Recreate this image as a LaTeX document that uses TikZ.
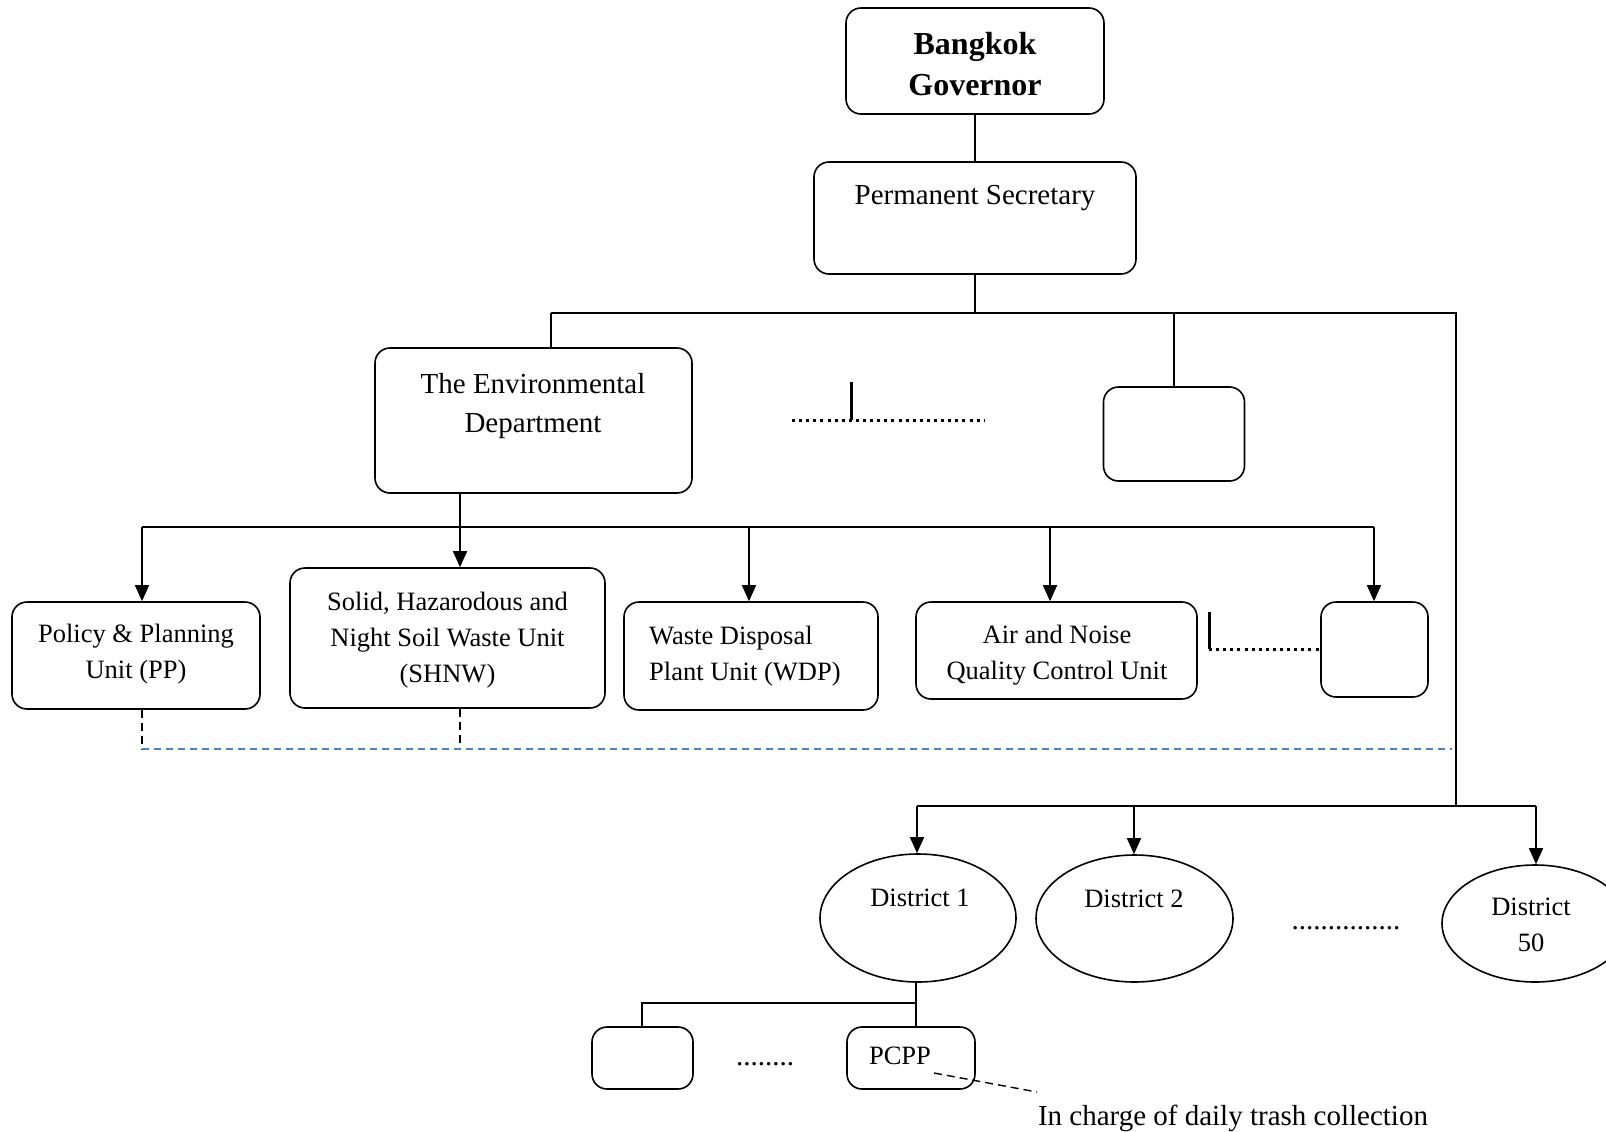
\documentclass[tikz,border=0pt]{standalone}
\usepackage{fontspec}
\setmainfont{Liberation Serif}
\usetikzlibrary{arrows.meta,shapes.geometric}
\begin{document}
\begin{tikzpicture}[x=1pt,y=-1pt,
  box/.style={draw,line width=1.6pt,rounded corners=15pt,inner sep=0pt},
  oval/.style={draw,ellipse,line width=1.6pt,inner sep=0pt},
  txt/.style={font=\fontsize{29}{36}\selectfont,align=center,inner sep=0pt},
  unittxt/.style={font=\fontsize{26.5}{36}\selectfont,align=center,inner sep=0pt},
  headtxt/.style={font=\fontsize{32}{41}\selectfont\bfseries,align=center,inner sep=0pt},
  link/.style={line width=1.6pt},
  arr/.style={line width=1.6pt,-{Triangle[width=14pt,length=16pt]}},
  dots/.style={line width=3pt,dash pattern=on 3pt off 4.1pt},
  bar/.style={line width=3pt},
  blackdash/.style={line width=1.4pt,dash pattern=on 8pt off 5pt},
  bluedash/.style={line width=1.6pt,draw={rgb,255:red,79;green,129;blue,189},dash pattern=on 7pt off 5pt},
  notedash/.style={line width=1.4pt,dash pattern=on 8pt off 5pt}
]
\useasboundingbox[fill=white] (0,0) rectangle (1606,1132);

% top of the hierarchy
\node[box,minimum width=258pt,minimum height=106pt] (gov) at (975,61) {};
\node[headtxt] (tgov) at (975,64) {Bangkok\\Governor};
\node[box,minimum width=322pt,minimum height=112pt] (sec) at (975,218) {};
\node[txt] (tsec) at (975,198) {Permanent Secretary};

% departments
\node[box,minimum width=317pt,minimum height=145pt] (env) at (533.5,420.5) {};
\node[txt,font=\fontsize{29}{39}\selectfont] (tenv) at (533,406) {The Environmental\\Department};
\node[box,minimum width=141pt,minimum height=94pt] (sb1) at (1174,434) {};

% units of the Environmental Department
\node[box,minimum width=248pt,minimum height=107pt] (pp) at (136,655.5) {};
\node[unittxt] (tpp) at (136,654) {Policy \& Planning\\Unit (PP)};
\node[box,minimum width=315pt,minimum height=140pt] (shnw) at (447.5,638) {};
\node[unittxt] (tshnw) at (447.5,640.5) {Solid, Hazarodous and\\Night Soil Waste Unit\\(SHNW)};
\node[box,minimum width=254pt,minimum height=108pt] (wdp) at (751,656) {};
\node[unittxt,align=left,anchor=west] (twdp) at (649,656) {Waste Disposal\\Plant Unit (WDP)};
\node[box,minimum width=281pt,minimum height=97pt] (air) at (1056.5,650.5) {};
\node[unittxt] (tair) at (1057,655.5) {Air and Noise\\Quality Control Unit};
\node[box,minimum width=107pt,minimum height=95pt] (sb2) at (1374.5,649.5) {};

% districts
\node[oval,minimum width=196pt,minimum height=128pt] (d1) at (918,918) {};
\node[unittxt] (td1) at (920,898) {District 1};
\node[oval,minimum width=197pt,minimum height=127pt] (d2) at (1134.5,918.5) {};
\node[unittxt] (td2) at (1134,899) {District 2};
\node[oval,minimum width=186pt,minimum height=117pt] (d50) at (1535,923.5) {};
\node[unittxt] (td50) at (1531,924.5) {District\\50};
\node[txt,anchor=base] (ddots) at (1346,929) {...............};

% units of District 1
\node[box,minimum width=101pt,minimum height=62pt] (c1) at (642.5,1058) {};
\node[box,minimum width=128pt,minimum height=62pt] (pcpp) at (911,1058) {};
\node[unittxt] (tpcpp) at (900,1056) {PCPP};
\node[txt,anchor=base] (cdots) at (765,1065) {........};
\node[txt] (note) at (1233,1118) {In charge of daily trash collection};

% junction points
\coordinate (j1) at (551,313);
\coordinate (jS) at (975,313);
\coordinate (jR) at (1456,313);
\coordinate (jD) at (1456,806);
\coordinate (j2) at (460,527);
\coordinate (aPP) at (142,527);
\coordinate (aWDP) at (749,527);
\coordinate (aAir) at (1050,527);
\coordinate (aSb) at (1374,527);
\coordinate (aD1) at (917,806);
\coordinate (aD2) at (1134,806);
\coordinate (aD50) at (1536,806);
\coordinate (bL) at (142,749);
\coordinate (bS) at (460,749);
\coordinate (bR) at (1452,749);
\coordinate (k1) at (916,1003);
\coordinate (k0) at (642,1003);
\coordinate (m1) at (851,420);
\coordinate (m2) at (1209,649);
\coordinate (pn) at (934,1073);
\coordinate (pe) at (1037,1092);

% governor and permanent secretary
\draw[link] (gov) -- (sec);
\draw[link] (sec.south) -- (jS);
\draw[link] (j1) -- (jR) -- (jD);
\draw[link] (j1) -- (j1 |- env.north);
\draw[link] (sb1.north |- j1) -- (sb1.north);

% other departments
\draw[bar] (m1) -- ++(0,-38);
\draw[dots] (792,420) -- (985,420);

% environmental department to its units
\draw[link] (j2 |- env.south) -- (j2);
\draw[link] (aPP) -- (aSb);
\draw[arr] (aPP) -- (aPP |- pp.north);
\draw[arr] (j2) -- (j2 |- shnw.north);
\draw[arr] (aWDP) -- (aWDP |- wdp.north);
\draw[arr] (aAir) -- (aAir |- air.north);
\draw[arr] (aSb) -- (aSb |- sb2.north);

% other units
\draw[bar] (m2) -- ++(0,-37);
\draw[dots] (m2) -- (m2 -| sb2.west);

% coordination among units
\draw[blackdash] (bL |- pp.south) -- (bL);
\draw[blackdash] (bS |- shnw.south) -- (bS);
\draw[bluedash] (bL) -- (bR);

% districts
\draw[link] (aD1) -- (aD50);
\draw[arr] (aD1) -- (aD1 |- d1.north);
\draw[arr] (aD2) -- (aD2 |- d2.north);
\draw[arr] (aD50) -- (aD50 |- d50.north);

% district 1 units
\draw[link] (k1 |- d1.south) -- (k1 |- pcpp.north);
\draw[link] (k1) -- (k0) -- (k0 |- c1.north);
\draw[notedash] (pn) -- (pe);
\end{tikzpicture}
\end{document}
